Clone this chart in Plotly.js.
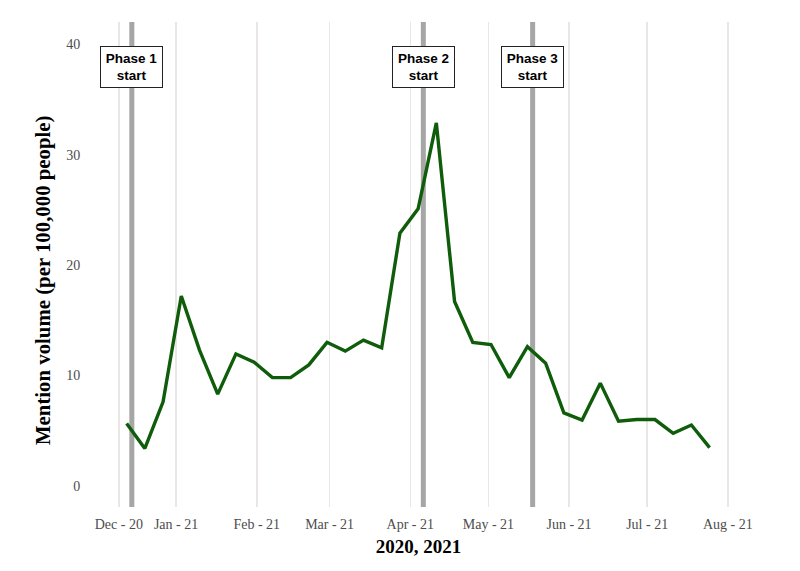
<!DOCTYPE html>
<html>
<head>
<meta charset="utf-8">
<script src="https://cdn.plot.ly/plotly-3.0.1.min.js"></script>
<style>html,body{margin:0;padding:0;background:#fff;}#chart{width:800px;height:571px;}</style>
</head>
<body>
<div id="chart"></div>
<script>
const weeks = ['2020-12-13','2020-12-20','2020-12-27','2021-01-03','2021-01-10','2021-01-17','2021-01-24','2021-01-31',
  '2021-02-07','2021-02-14','2021-02-21','2021-02-28','2021-03-07','2021-03-14','2021-03-21','2021-03-28',
  '2021-04-04','2021-04-11','2021-04-18','2021-04-25','2021-05-02','2021-05-09','2021-05-16','2021-05-23','2021-05-30',
  '2021-06-06','2021-06-13','2021-06-20','2021-06-27','2021-07-04','2021-07-11','2021-07-18','2021-07-25'];
const mentionVolume = [5.65,3.38,7.6,17.2,12.3,8.3,11.95,11.2,9.8,9.8,10.95,13.0,12.2,13.2,12.5,22.9,
  25.1,32.9,16.7,13.0,12.8,9.8,12.6,11.1,6.6,5.95,9.3,5.85,6.0,6.0,4.75,5.5,3.45];
const phaseDates = ['2020-12-15','2021-04-06','2021-05-18'];
const phaseLabels = ['Phase 1<br>start','Phase 2<br>start','Phase 3<br>start'];
const phaseLabelY = 37.95;
const tickDates = ['2020-12-10','2021-01-01','2021-02-01','2021-03-01','2021-04-01','2021-05-01','2021-06-01','2021-07-01','2021-08-01'];
const tickLabels = ['Dec - 20','Jan - 21','Feb - 21','Mar - 21','Apr - 21','May - 21','Jun - 21','Jul - 21','Aug - 21'];
const yTitle = 'Mention volume (per 100,000 people)';
const xTitle = '2020, 2021';

const trace = {
  x: weeks, y: mentionVolume, type: 'scatter', mode: 'lines',
  line: {color: '#0f5c0a', width: 3.4}, hoverinfo: 'skip', showlegend: false
};

const shapes = phaseDates.map(d => ({
  type: 'line', xref: 'x', yref: 'paper', x0: d, x1: d, y0: 0, y1: 1,
  line: {color: '#a6a6a6', width: 5}, layer: 'below'
}));

const annotations = phaseDates.map((d, i) => ({
  x: d, y: phaseLabelY, xref: 'x', yref: 'y',
  text: '<b>' + phaseLabels[i].replace('<br>', '</b><br><b>') + '</b>', showarrow: false,
  font: {family: 'Liberation Sans, Arial, sans-serif', size: 13.5, color: '#000'},
  width: 55, height: 34,
  bgcolor: '#fff', bordercolor: '#222', borderwidth: 1, borderpad: 3
}));
annotations.push({
  xref: 'paper', yref: 'paper', x: -0.0858, y: 0.468, xanchor: 'center', yanchor: 'middle',
  text: '<b>' + yTitle + '</b>', textangle: -90, showarrow: false,
  font: {family: 'Liberation Serif, serif', size: 20.8, color: '#000'}
});

const layout = {
  width: 800, height: 571,
  margin: {l: 98, r: 61, t: 22, b: 64},
  paper_bgcolor: '#fff', plot_bgcolor: '#fff',
  font: {family: 'Liberation Serif, Times New Roman, serif'},
  xaxis: {
    type: 'date', range: ['2020-12-02', '2021-08-05 07:00'],
    tickvals: tickDates, ticktext: tickLabels,
    tickfont: {family: 'Liberation Serif, serif', size: 14, color: '#4d4d4d'},
    showgrid: true, gridcolor: '#ebe6e6', gridwidth: 1.5,
    zeroline: false, showline: false,
    ticks: 'outside', ticklen: 4, tickcolor: 'rgba(0,0,0,0)',
    title: {text: '<b>' + xTitle + '</b>', font: {family: 'Liberation Serif, serif', size: 19, color: '#000'}, standoff: 8}
  },
  yaxis: {
    range: [-1.93, 42.04],
    tickvals: [0, 10, 20, 30, 40],
    tickfont: {family: 'Liberation Serif, serif', size: 14, color: '#4d4d4d'},
    showgrid: false, zeroline: false, showline: false,
    ticks: 'outside', ticklen: 14, tickcolor: 'rgba(0,0,0,0)'
  },
  shapes: shapes,
  annotations: annotations
};

Plotly.newPlot('chart', [trace], layout, {displayModeBar: false, staticPlot: true});
</script>
</body>
</html>
